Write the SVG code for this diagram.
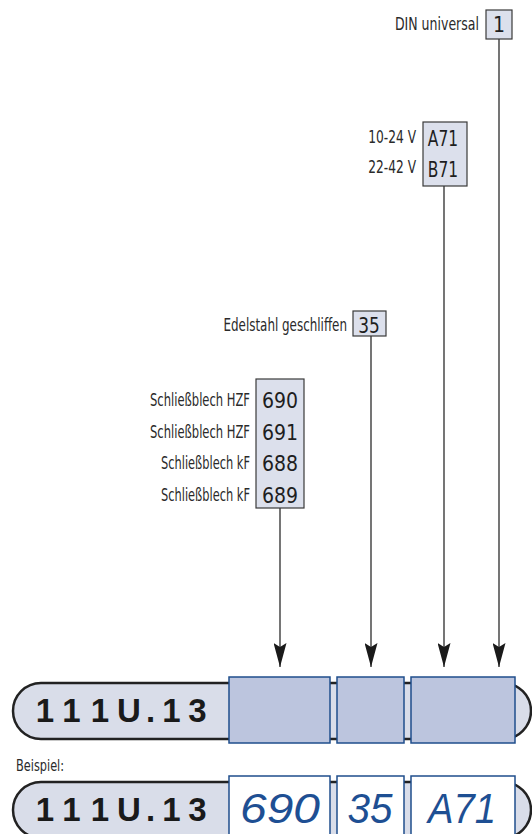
<svg xmlns="http://www.w3.org/2000/svg" width="532" height="834" viewBox="0 0 532 834">
<style>
.lbl{font-family:"DejaVu Sans Condensed","DejaVu Sans",sans-serif;font-stretch:condensed;font-size:17px;fill:#2a2a2a;text-anchor:end}
.num{font-family:"DejaVu Sans Condensed","DejaVu Sans",sans-serif;font-stretch:condensed;font-size:21px;fill:#1e1e1e;text-anchor:middle}
.box{fill:#dce0ec;stroke:#3a3a3a;stroke-width:1.2}
.pill{fill:#d9dde9;stroke:#222;stroke-width:2.5}
.seg{fill:#bcc5de;stroke:#1f4e8c;stroke-width:1.5}
.segw{fill:#fff;stroke:#1f4e8c;stroke-width:1.5}
.code{font-family:"Liberation Sans",Arial,sans-serif;font-weight:bold;font-size:33px;fill:#1a1a1a;text-anchor:middle}
.hand{font-family:"Liberation Sans",Arial,sans-serif;font-style:italic;font-size:42px;fill:#1e4f93;text-anchor:middle}
.conn{stroke:#1a1a1a;stroke-width:1.2;fill:none}
</style>
<defs>
<marker id="arr" viewBox="0 0 24 13" refX="24" refY="6.5" markerWidth="24" markerHeight="13" markerUnits="userSpaceOnUse" orient="auto">
<path d="M0,0 L24,6.5 L0,13 L4,6.5 z" fill="#1a1a1a"/>
</marker>
</defs>

<g id="connectors">
<line class="conn" x1="280" y1="508" x2="280" y2="667" marker-end="url(#arr)"/>
<line class="conn" x1="371" y1="336" x2="371" y2="667" marker-end="url(#arr)"/>
<line class="conn" x1="444" y1="186" x2="444" y2="667" marker-end="url(#arr)"/>
<line class="conn" x1="499" y1="39" x2="499" y2="667" marker-end="url(#arr)"/>
</g>

<g id="opt-din">
<text class="lbl" transform="scale(0.82,1)" x="584.1" y="30">DIN universal</text>
<rect class="box" x="486" y="10" width="26" height="29"/>
<text class="num" x="499" y="32">1</text>
</g>

<g id="opt-voltage">
<text class="lbl" transform="scale(0.8,1)" x="520" y="143">10-24 V</text>
<text class="lbl" transform="scale(0.8,1)" x="520" y="173">22-42 V</text>
<rect class="box" x="423" y="122" width="44" height="64"/>
<text class="num" transform="scale(0.82,1)" x="540.2" y="146">A71</text>
<text class="num" transform="scale(0.82,1)" x="540.2" y="177">B71</text>
</g>

<g id="opt-finish">
<text class="lbl" transform="scale(0.78,1)" x="444.9" y="331">Edelstahl geschliffen</text>
<rect class="box" x="353" y="311" width="33" height="25"/>
<text class="num" transform="scale(0.9,1)" x="410" y="333">35</text>
</g>

<g id="opt-strike">
<text class="lbl" transform="scale(0.755,1)" x="331.1" y="406">Schließblech HZF</text>
<text class="lbl" transform="scale(0.755,1)" x="331.1" y="438">Schließblech HZF</text>
<text class="lbl" transform="scale(0.746,1)" x="335.1" y="469">Schließblech kF</text>
<text class="lbl" transform="scale(0.746,1)" x="335.1" y="501">Schließblech kF</text>
<rect class="box" x="256" y="379" width="48" height="129"/>
<text class="num" x="280" y="408">690</text>
<text class="num" x="280" y="440">691</text>
<text class="num" x="280" y="471">688</text>
<text class="num" x="280" y="503">689</text>
</g>

<g id="code-bar">
<rect class="pill" x="13" y="683" width="518" height="56" rx="28" ry="28"/>
<text class="code" x="45 71.5 100 129 150.5 171.5 197.5" y="722">111U.13</text>
<rect class="seg" x="229" y="677" width="101" height="66"/>
<rect class="seg" x="337" y="677" width="67" height="66"/>
<rect class="seg" x="411" y="677" width="104" height="66"/>
</g>

<g id="example">
<text transform="scale(0.84,1)" x="19.05" y="771" style="font-family:'DejaVu Sans Condensed','DejaVu Sans',sans-serif;font-stretch:condensed;font-size:15px;fill:#2a2a2a">Beispiel:</text>
<rect class="pill" x="13" y="782" width="518" height="56" rx="28" ry="28"/>
<text class="code" x="45 71.5 100 129 150.5 171.5 197.5" y="821">111U.13</text>
<rect class="segw" x="229" y="776" width="101" height="66"/>
<rect class="segw" x="337" y="776" width="67" height="66"/>
<rect class="segw" x="411" y="776" width="104" height="66"/>
<text class="hand" x="280" y="823" textLength="80" lengthAdjust="spacingAndGlyphs">690</text>
<text class="hand" x="370" y="823" textLength="45" lengthAdjust="spacingAndGlyphs">35</text>
<text class="hand" x="462" y="823" textLength="68" lengthAdjust="spacingAndGlyphs">A71</text>
</g>
</svg>
